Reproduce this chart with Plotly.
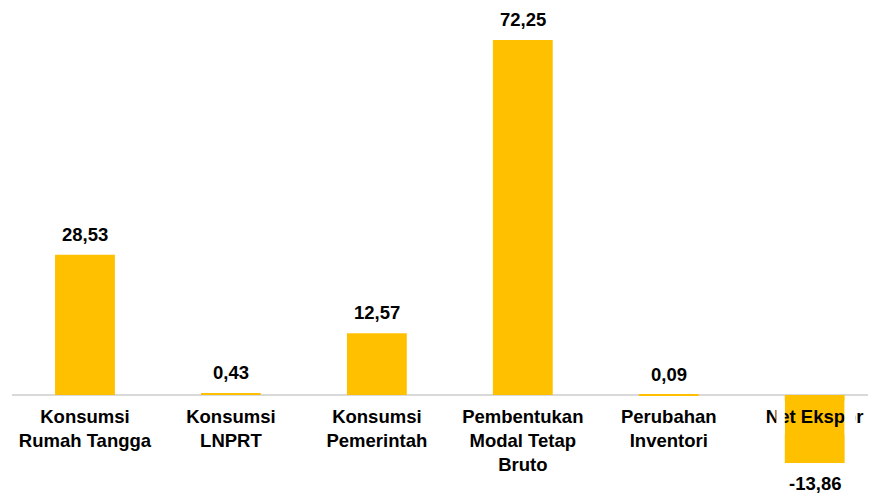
import plotly.graph_objects as go

categories = ["Konsumsi<br>Rumah Tangga", "Konsumsi<br>LNPRT", "Konsumsi<br>Pemerintah",
              "Pembentukan<br>Modal Tetap<br>Bruto", "Perubahan<br>Inventori", "Net Ekspor"]
values = [28.53, 0.43, 12.57, 72.25, 0.09, -13.86]
value_labels = ["28,53", "0,43", "12,57", "72,25", "0,09", "-13,86"]

BAR_COLOR = "#FFC000"
FONT = "Liberation Sans, Arial, sans-serif"
BW = 0.41
xs = list(range(len(categories)))

# page body has an 8px default margin, so the figure is sized to fit the window
W, H = 868, 487

fig = go.Figure()
fig.add_trace(go.Bar(x=xs, y=values, width=BW, marker=dict(color=BAR_COLOR, line=dict(width=0)),
                     hoverinfo="skip"))

for x, v, t in zip(xs, values, value_labels):
    fig.add_annotation(x=x, y=v, text=f"<b>{t}</b>", showarrow=False,
                       yanchor="middle", yshift=20.5 if v >= 0 else -20.5,
                       font=dict(family=FONT, size=18.5, color="#000000"))

# white masks beside the negative bar (as in the reference rendering)
last = xs[-1]
fig.add_shape(type="rect", xref="x", yref="y", x0=last - BW / 2 - 0.058, x1=last - BW / 2,
              y0=-8.0, y1=-1.2, fillcolor="white", line=dict(width=0), layer="above")
fig.add_shape(type="rect", xref="x", yref="y", x0=last + BW / 2, x1=last + BW / 2 + 0.076,
              y0=-8.0, y1=-1.2, fillcolor="white", line=dict(width=0), layer="above")

fig.update_layout(
    width=W, height=H,
    margin=dict(l=4, r=0, t=0, b=0, autoexpand=False),
    paper_bgcolor="white", plot_bgcolor="white",
    showlegend=False,
    font=dict(family=FONT, size=18.5, color="#000000"),
)
fig.update_xaxes(
    range=[-0.5, 5.42], tickmode="array", tickvals=xs,
    ticktext=[f"<b>{c}</b>" for c in categories],
    showgrid=False, showline=False, zeroline=False, ticks="",
    anchor="free", position=100 / H, layer="above traces",
    ticklabelstandoff=8, automargin=False,
    tickfont=dict(family=FONT, size=18.5, color="#000000"),
)
fig.update_yaxes(
    range=[-20.35, 78.77], showgrid=False, showticklabels=False, ticks="",
    zeroline=True, zerolinecolor="#D9D9D9", zerolinewidth=1.5, layer="below traces",
    automargin=False,
)

fig.write_html("out.html")
